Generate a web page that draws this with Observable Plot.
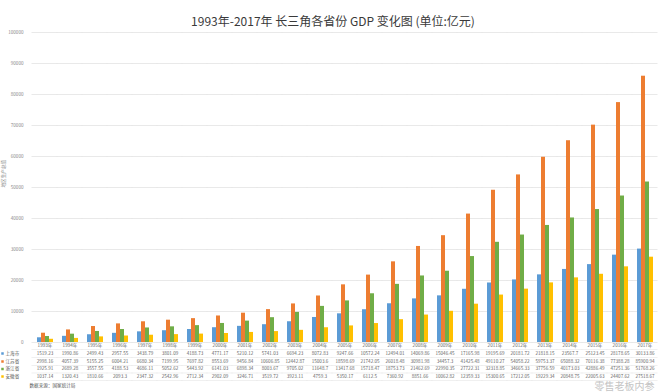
<!DOCTYPE html>
<html>
<head>
<meta charset="utf-8">
<script src="https://cdn.jsdelivr.net/npm/d3@7"></script>
<script src="https://cdn.jsdelivr.net/npm/@observablehq/plot@0.6"></script>
<style>
  html, body { margin: 0; padding: 0; background: #ffffff; }
  #chart svg { display: block; }
</style>
</head>
<body>
<div id="chart"></div>
<script>
const title = "1993年-2017年 长三角各省份 GDP 变化图 (单位:亿元)";
const yLabel = "地区生产总值";
const source = "数据来源：国家统计局";
const watermark = "零售老板内参";
const years = ["1993年","1994年","1995年","1996年","1997年","1998年","1999年","2000年","2001年","2002年","2003年","2004年","2005年","2006年","2007年","2008年","2009年","2010年","2011年","2012年","2013年","2014年","2015年","2016年","2017年"];
const seriesNames = ["上海市","江苏省","浙江省","安徽省"];
const shanghai = [1519.23,1990.86,2499.43,2957.55,3438.79,3801.09,4188.73,4771.17,5210.12,5741.03,6694.23,8072.83,9247.66,10572.24,12494.01,14069.86,15046.45,17165.98,19195.69,20181.72,21818.15,23567.7,25123.45,28178.65,30133.86];
const jiangsu = [2998.16,4057.39,5155.25,6004.21,6680.34,7199.95,7697.82,8553.69,9456.84,10606.85,12442.87,15003.6,18598.69,21742.05,26018.48,30981.98,34457.3,41425.48,49110.27,54058.22,59753.37,65088.32,70116.38,77388.28,85900.94];
const zhejiang = [1925.91,2689.28,3557.55,4188.53,4686.11,5052.62,5443.92,6141.03,6898.34,8003.67,9705.02,11648.7,13417.68,15718.47,18753.73,21462.69,22990.35,27722.31,32318.85,34665.33,37756.59,40173.03,42886.49,47251.36,51768.26];
const anhui = [1037.14,1320.43,1810.66,2093.3,2347.32,2542.96,2712.34,2902.09,3246.71,3519.72,3923.11,4759.3,5350.17,6112.5,7360.92,8851.66,10062.82,12359.33,15300.65,17212.05,19229.34,20848.75,22005.63,24407.62,27518.67];
const yTicks = [0,10000,20000,30000,40000,50000,60000,70000,80000,90000,100000];
const colors = ["#5b9bd5","#ed7d31","#70ad47","#ffc000"];

const seriesValues = [shanghai, jiangsu, zhejiang, anhui];
const data = years.flatMap((yr, i) => seriesNames.map((s, j) => ({year: yr, series: s, value: seriesValues[j][i]})));

const font = "'Noto Sans CJK SC', 'Noto Sans', sans-serif";
const tableFont = 4.6;
const rowDy = [11, 19, 26.5, 34];
const sepDy = [7, 15, 23, 30.5, 38];
const mid = {lineAnchor: "middle"};

const marks = [
  Plot.ruleY(yTicks, {stroke: "#e3e3e3", strokeWidth: 0.8, insetLeft: -3.5, insetRight: -3.5}),
  Plot.barY(data, {fx: "year", x: "series", y: "value", fill: "series"}),
  Plot.axisY(yTicks, {tickSize: 0, tickPadding: 12, fontSize: 4.6, fill: "#8a8a8a", tickFormat: d => String(d)}),
  Plot.text([yLabel], {...mid, fx: () => years[0], frameAnchor: "left", rotate: -90, dx: -32, fontSize: 4.6, fill: "#8a8a8a"}),
  Plot.text([title], {...mid, fx: () => years[12], frameAnchor: "top", dy: -10, dx: -12, fontSize: 12, fill: "#3a3a3a", fontFamily: font}),
  Plot.text(years, {...mid, fx: d => d, text: d => d, frameAnchor: "bottom", dy: 3.5, fontSize: tableFont, fill: "#666"}),
  Plot.text([source], {...mid, fx: () => years[0], frameAnchor: "bottom-left", textAnchor: "start", dx: -6, dy: 43, fontSize: 4.6, fill: "#555"}),
  Plot.text([watermark], {...mid, fx: () => years[24], frameAnchor: "bottom-right", textAnchor: "end", dx: 0, dy: 44.5, fontSize: 10, fill: "#c4c4c4"})
];

sepDy.forEach(k => marks.push(Plot.ruleY([0], {dy: k, stroke: "#e6e6e6", strokeWidth: 0.6, insetLeft: -3.5, insetRight: -3.5})));

seriesNames.forEach((s, j) => {
  marks.push(Plot.text(data.filter(d => d.series === s), {...mid, fx: "year", text: d => String(d.value), frameAnchor: "bottom", dy: rowDy[j], fontSize: tableFont, fill: "#666"}));
  marks.push(Plot.text([s], {...mid, fx: () => years[0], frameAnchor: "bottom-left", textAnchor: "start", dx: -30, dy: rowDy[j], fontSize: tableFont, fill: "#555"}));
  marks.push(Plot.dot([s], {fx: () => years[0], frameAnchor: "bottom-left", dx: -33, dy: rowDy[j], symbol: "square", r: 1.4, fill: colors[j], stroke: "none"}));
});

const chart = Plot.plot({
  width: 660,
  height: 392,
  marginTop: 32,
  marginBottom: 50,
  marginLeft: 33,
  marginRight: 4,
  style: {fontFamily: font, background: "#ffffff"},
  fx: {domain: years, padding: 0.24, axis: null, label: null},
  x: {domain: seriesNames, padding: 0, axis: null, label: null},
  y: {domain: [0, 100000], axis: null, label: null},
  color: {domain: seriesNames, range: colors},
  marks
});
document.getElementById("chart").appendChild(chart);
</script>
</body>
</html>
